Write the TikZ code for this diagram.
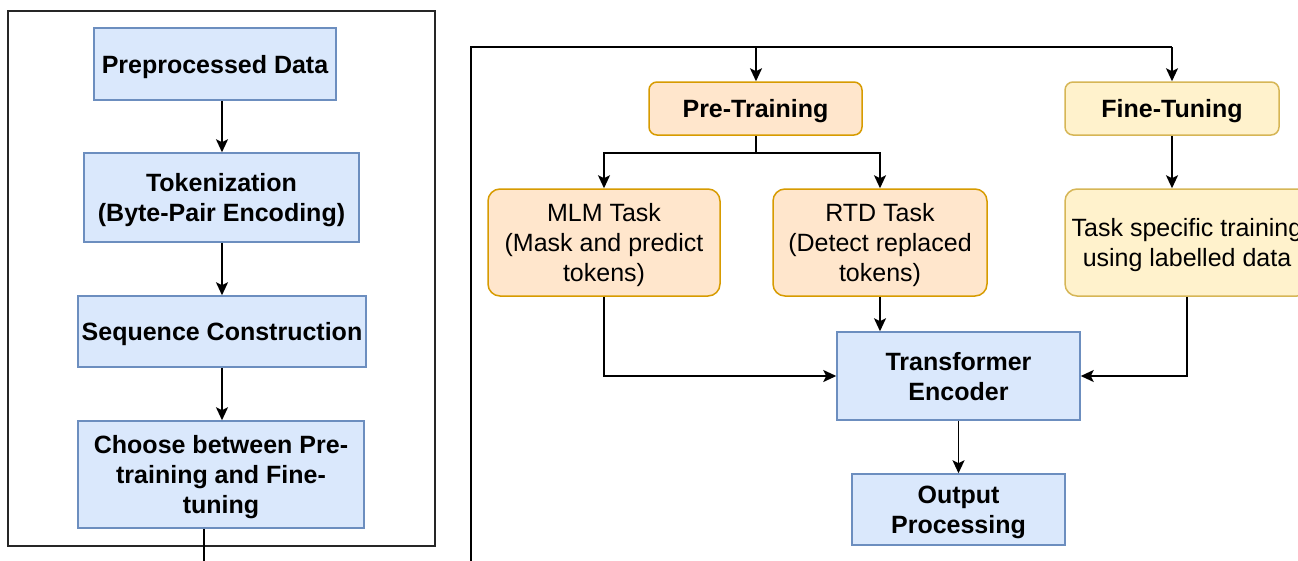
\documentclass[tikz,border=0pt]{standalone}
\usepackage{fontspec}
\setmainfont{Liberation Sans}
\usetikzlibrary{arrows.meta,calc}
\definecolor{bfill}{HTML}{DAE8FC}
\definecolor{bdraw}{HTML}{6C8EBF}
\definecolor{ofill}{HTML}{FFE6CC}
\definecolor{odraw}{HTML}{D79B00}
\definecolor{yfill}{HTML}{FFF2CC}
\definecolor{ydraw}{HTML}{D6B656}
\tikzset{
  base/.style={inner sep=0pt, align=center, text depth=0pt, font=\fontsize{25}{30}\selectfont, line width=1.5pt},
  bluebox/.style={base, draw=bdraw, fill=bfill, font=\fontsize{25}{30}\selectfont\bfseries},
  orangebox/.style={base, draw=odraw, fill=ofill, rounded corners=12pt},
  yellowbox/.style={base, draw=ydraw, fill=yfill, rounded corners=12pt},
  boldtitle/.style={font=\fontsize{25}{30}\selectfont\bfseries, rounded corners=8pt},
  conn/.style={line width=1.9pt, draw=black},
  arr/.style={conn, -{Stealth[length=13pt,width=12pt,inset=3pt]}},
  frame/.style={line width=2pt, draw=black!85}
}
\begin{document}
\begin{tikzpicture}[x=1pt,y=-1pt]
\useasboundingbox (0,0) rectangle (1298,560);
\clip (0,0) rectangle (1298,560);
\fill[white] (0,0) rectangle (1298,560);

% left panel
\draw[frame] (8,11) rectangle (435,546);
\node[bluebox, minimum width=242pt, minimum height=72pt] (pre) at (215,64) {Preprocessed Data};
\node[bluebox, minimum width=275pt, minimum height=89pt] (tok) at (221.5,197.5) {Tokenization\\(Byte-Pair Encoding)};
\node[bluebox, minimum width=288pt, minimum height=71pt] (seq) at (222,331.5) {Sequence Construction};
\node[bluebox, minimum width=286pt, minimum height=107pt] (cho) at (221,474.5) {Choose between Pre-\\training and Fine-\\tuning};
\draw[arr] (pre.south -| 222,0) -- (tok.north -| 222,0);
\draw[arr] (tok.south -| 222,0) -- (seq.north -| 222,0);
\draw[arr] (seq.south -| 222,0) -- (cho.north -| 222,0);
\coordinate (choend) at (204,562);
\draw[conn] (cho.south -| choend) -- (choend);

% right panel
\node[orangebox, boldtitle, minimum width=213pt, minimum height=53pt] (ptr) at (755.5,108.5) {Pre-Training};
\node[yellowbox, boldtitle, minimum width=214pt, minimum height=53pt] (ftn) at (1172,108.5) {Fine-Tuning};
\node[orangebox, minimum width=232pt, minimum height=107pt] (mlm) at (604,242.5) {MLM Task\\(Mask and predict\\tokens)};
\node[orangebox, minimum width=214pt, minimum height=107pt] (rtd) at (880,242.5) {RTD Task\\(Detect replaced\\tokens)};
\node[yellowbox, minimum width=244pt, minimum height=107pt] (tsk) at (1187,242.5) {Task specific training\\using labelled data};
\node[bluebox, minimum width=243pt, minimum height=88pt] (enc) at (958.5,376) {Transformer\\Encoder};
\node[bluebox, minimum width=213pt, minimum height=71pt] (out) at (958.5,509.5) {Output\\Processing};

\coordinate (rstart) at (471,562);
\coordinate (rtopl) at (471,47);
\coordinate (rtopr) at (1172,47);
\coordinate (ptop) at (756,47);
\draw[conn] (rstart) -- (rtopl) -- (rtopr);
\draw[arr] (rtopr) -- (ftn.north);
\draw[arr] (ptop) -- (ptr.north -| ptop);

\coordinate (split) at (756,153);
\draw[conn] (ptr.south -| split) -- (split);
\draw[arr] (split) -| (mlm.north);
\draw[arr] (split) -| (rtd.north);

\draw[arr] (ftn.south) -- (tsk.north -| ftn.south);
\draw[arr] (rtd.south) -- (enc.north -| rtd.south);
\draw[arr] (mlm.south) |- (enc.west);
\draw[arr] (tsk.south) |- (enc.east);
\draw[arr] (enc.south) -- (out.north);
\end{tikzpicture}
\end{document}
